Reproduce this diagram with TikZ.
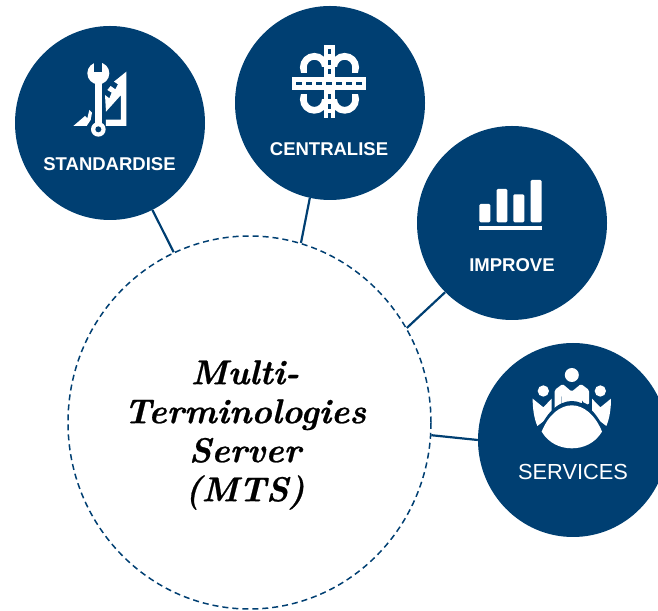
\documentclass[tikz,border=0pt]{standalone}
\usepackage{fontspec}
\usetikzlibrary{shapes.geometric}
\setsansfont{Liberation Sans}
\newfontfamily\hubfont[BoldItalicFeatures={FakeBold=0.7}]{Latin Modern Roman}
\definecolor{mtsblue}{HTML}{003F72}
\tikzset{
  x=1pt,y=1pt,
  bubble/.style={ellipse,fill=mtsblue,draw=none,inner sep=0pt,minimum width=190pt,minimum height=194pt},
  hub/.style={ellipse,draw=mtsblue,fill=white,line width=1.5pt,dash pattern=on 6pt off 4pt,inner sep=0pt,minimum width=363pt,minimum height=373pt},
  link/.style={draw=mtsblue,line width=2.2pt},
  caption/.style={text=white,font=\sffamily\bfseries\fontsize{18.5}{22}\selectfont,inner sep=0pt},
  hubtext/.style={align=center,font=\hubfont\bfseries\itshape\fontsize{34.5}{39}\selectfont,text=black,inner sep=0pt},
  icon/.style={x=0.3333pt,y=-0.3333pt,fill=white,draw=none},
  iconcut/.style={fill=mtsblue,draw=none}
}
\begin{document}
\begin{tikzpicture}
\useasboundingbox (0,0) rectangle (658,610);
\node[hub] (main) at (249.5,187.5) {};
\node[bubble] (std) at (110,487) {};
\node[bubble] (cen) at (330,507) {};
\node[bubble] (imp) at (512,387) {};
\node[bubble] (srv) at (573,170) {};
\draw[link] (std.-64.8) -- (main.114.4);
\draw[link] (cen.-102) -- (main.74.3);
\draw[link] (imp.-134) -- (main.31.7);
\draw[link] (srv.180) -- (main.-4.3);
\node[caption] (l1) at (109.5,446) {STANDARDISE};
\node[caption] (l2) at (329,461) {CENTRALISE};
\node[caption] (l3) at (512,345) {IMPROVE};
\node[caption,font=\sffamily\fontsize{21.8}{26}\selectfont] (l4) at (573,138) {SERVICES};
\node[hubtext] (t) at (245,175) {Multi-\\Terminologies\\Server\\(MTS)};
% standardise icon
\begin{scope}[shift={(50,560)},icon]
  \fill[white] (229,65) -- (229,228) -- (168,228) -- (168,209) -- (213,209) -- (213,135) -- (168,185) -- (165,135) -- (178,145) -- (185,128) -- (172,120) -- (182,108) -- (196,118) -- (204,103) -- (192,95) -- cycle;
  \fill[white] (70,228) -- (105,198) -- (112,205) -- (118,180) -- (126,188) -- (122,210) -- (110,228) -- cycle;
  \fill[iconcut] (128,95) rectangle (162,220);
  \fill[white] (135,90) rectangle (155,225);
  \fill[white] (145,70) circle [radius=33];
  \fill[iconcut] (133,28) rectangle (157,66);
  \fill[white] (145,238) circle [radius=22];
  \fill[iconcut] (145,238) circle [radius=9];
\end{scope}
% centralise icon
\begin{scope}[shift={(280,580)},icon]
  \foreach \cx/\cy in {103/112,194/112,103/208,194/208}{
    \draw[white,line width=6.7pt] (\cx,\cy) circle [radius=33];
  }
  \fill[iconcut] (30,128) rectangle (132,140);
  \fill[iconcut] (165,128) rectangle (268,140);
  \fill[iconcut] (30,180) rectangle (132,192);
  \fill[iconcut] (165,180) rectangle (268,192);
  \fill[iconcut] (80,112) rectangle (132,140);
  \fill[iconcut] (165,112) rectangle (217,140);
  \fill[iconcut] (80,180) rectangle (132,208);
  \fill[iconcut] (165,180) rectangle (217,208);
  \fill[white] (132,45) rectangle (165,265);
  \fill[white] (37,140) rectangle (258,180);
  \foreach \hx in {49,79,109,139,169,199,229}{
    \fill[iconcut] (\hx,155) rectangle ++(17,9);
  }
  \foreach \hy in {58,90,118,193,222,250}{
    \fill[iconcut] (143,\hy) rectangle ++(10,15);
  }
\end{scope}
% improve icon
\begin{scope}[shift={(465,445)},icon]
  \fill[white,rounded corners=1.3pt] (43,117) rectangle (76,172);
  \fill[white,rounded corners=1.3pt] (95,72) rectangle (127,172);
  \fill[white,rounded corners=1.3pt] (145,88) rectangle (178,172);
  \fill[white,rounded corners=1.3pt] (197,45) rectangle (230,172);
  \fill[white] (43,183) rectangle (230,195);
\end{scope}
% services icon
\begin{scope}[shift={(520,250)},icon]
  \fill[white] (155.5,45) circle [radius=21];
  \fill[white] (70,93) circle [radius=17];
  \fill[white] (241,93) circle [radius=17];
  \fill[white] (38,116) -- (70,142) -- (95,116) -- (95,165) -- (52,198) .. controls (42,175) and (38,145) .. (38,116) -- cycle;
  \fill[white] (273,116) -- (241,142) -- (216,116) -- (216,165) -- (259,198) .. controls (269,175) and (273,145) .. (273,116) -- cycle;
  \fill[white,rounded corners=1.5pt] (104,150) -- (104,90) -- (128,72) -- (155,95) -- (183,72) -- (207,90) -- (207,135) -- (186,125) -- (186,105) -- (125,105) -- (125,160) -- (120,175) -- (104,160) -- cycle;
  \fill[white] (125,100) rectangle (186,128);
  \fill[iconcut] (52,225) .. controls (75,160) and (115,123) .. (155.5,123) .. controls (196,123) and (236,160) .. (259,225) -- (155,280) -- cycle;
  \fill[white] (65,215) .. controls (85,165) and (120,136) .. (155.5,136) .. controls (191,136) and (226,165) .. (246,215) .. controls (225,250) and (190,265) .. (155.5,265) .. controls (121,265) and (86,250) .. (65,215) -- cycle;
\end{scope}
\end{tikzpicture}
\end{document}
